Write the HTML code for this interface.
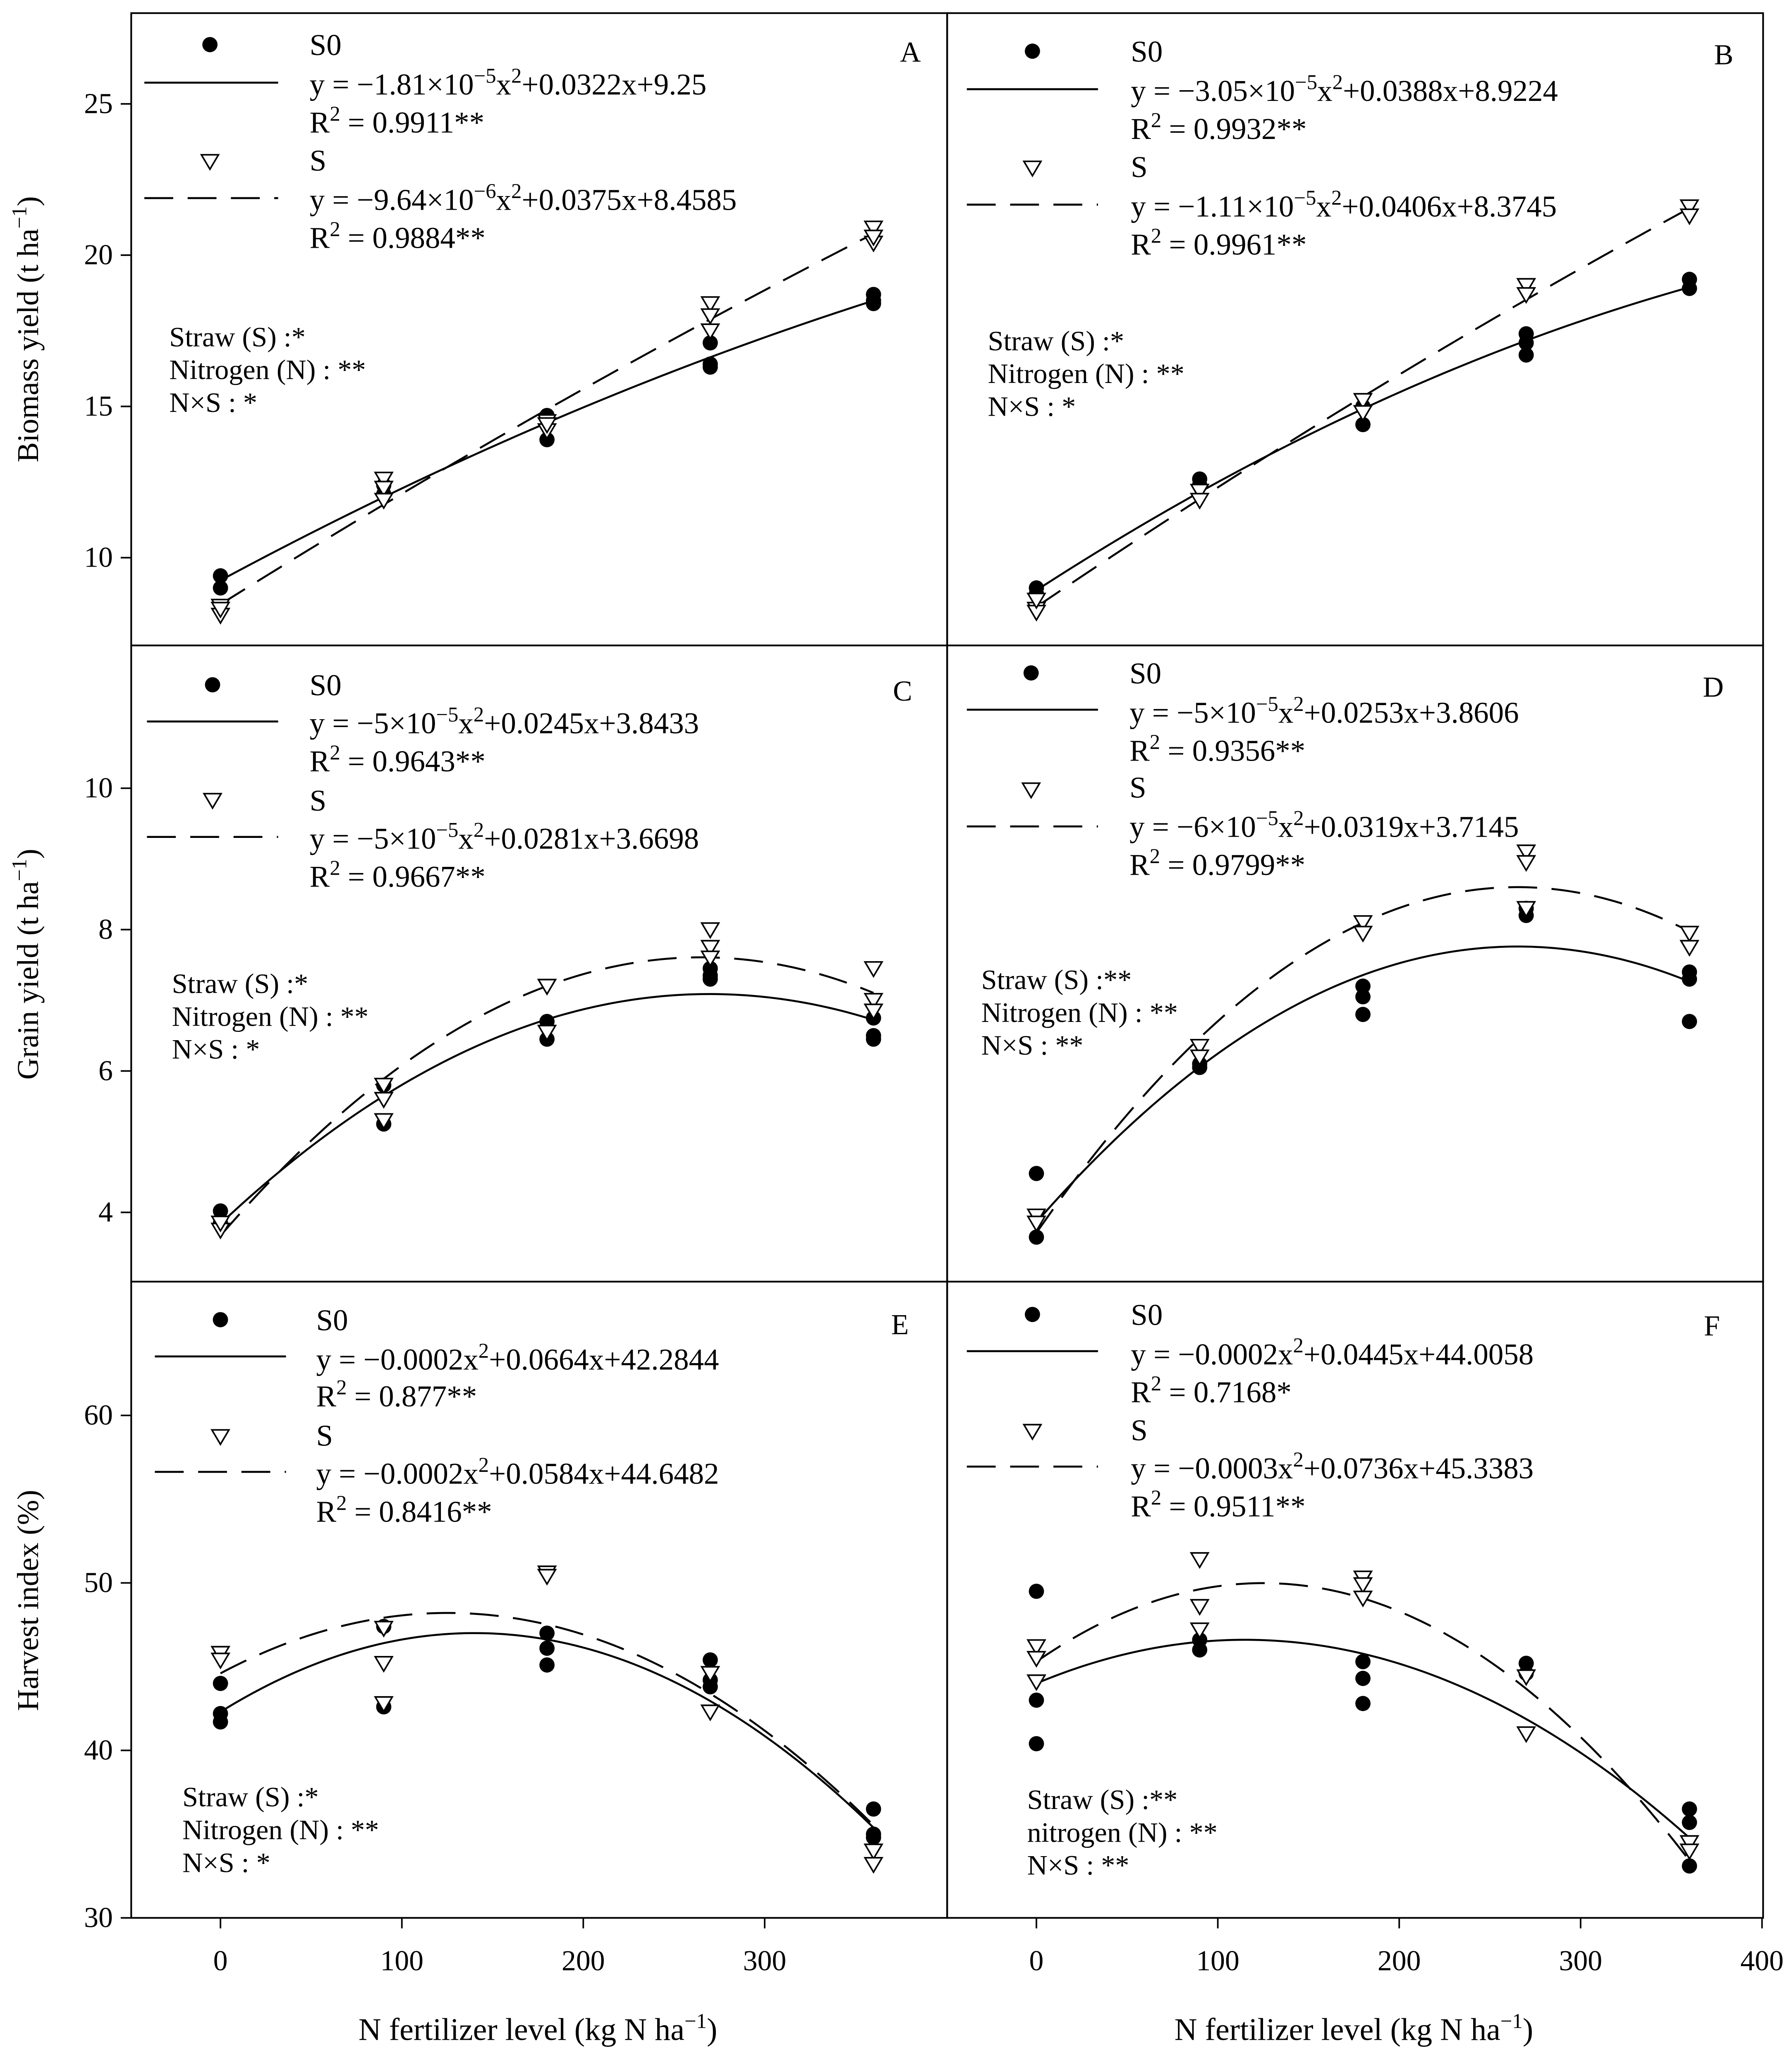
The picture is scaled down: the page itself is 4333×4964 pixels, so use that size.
<!DOCTYPE html>
<html><head><meta charset="utf-8"><style>
html,body{margin:0;padding:0;background:#fff}
svg{display:block}
text{font-family:"Liberation Serif",serif;fill:#000}
</style></head><body>
<svg id="chart" width="4333" height="4964" viewBox="0 0 1366 1565" xmlns="http://www.w3.org/2000/svg">
<rect width="1366" height="1565" fill="#fff"/>
<g id="root"></g>
</svg>
<script>
// x positions of treatments
const nLevels=[0,90,180,270,360];
// observed values (per N level)
const aS0=[[9.4,9.0],[12.4,12.1],[14.7,13.9],[17.1,16.3,16.4],[18.7,18.5,18.4]];
const aS=[[8.4,8.1,8.3],[12.6,12.3,11.9],[14.5,14.2,14.4],[18.4,18.0,17.5],[20.9,20.4,20.6]];
const bS0=[[9.0,8.8],[12.6,12.4],[15.0,14.4],[17.4,16.7,17.1],[19.2,18.9]];
const bS=[[8.3,8.2,8.6],[12.2,11.9],[15.2,14.8],[19.0,18.7],[21.6,21.3]];
const cS0=[[4.02,3.85],[5.8,5.25],[6.7,6.45],[7.45,7.3,7.35],[6.75,6.5,6.45]];
const cS=[[3.75,3.85],[5.8,5.6,5.3],[7.2,7.2,6.55],[8.0,7.75,7.6],[7.45,7.0,6.85]];
const dS0=[[4.55,3.65],[6.05,6.1],[7.2,7.05,6.8],[8.2,8.3],[7.4,7.3,6.7]];
const dS=[[3.95,3.85],[6.35,6.2],[8.1,7.95],[9.1,8.95,8.3],[7.95,7.75]];
const eS0=[[44.0,42.2,41.7],[47.4,42.6],[47.0,46.1,45.1],[45.4,44.2,43.8],[36.5,35.0,34.8]];
const eS=[[45.8,45.4],[47.3,45.2,42.8],[50.6,50.4],[44.6,42.3],[34.0,33.2]];
const fS0=[[49.5,43.0,40.4],[46.6,46.0],[45.3,44.3,42.8],[45.2,44.6],[36.5,35.7,33.1]];
const fS=[[46.2,45.5,44.1],[51.4,48.6,47.2],[50.3,49.9,49.1],[44.4,41.0],[34.5,34.0]];
// fitted quadratic coefficients [a,b,c]
const fitAS0=[-1.81e-5,0.0322,9.25], fitAS=[-9.64e-6,0.0375,8.4585];
const fitBS0=[-3.05e-5,0.0388,8.9224], fitBS=[-1.11e-5,0.0406,8.3745];
const fitCS0=[-4.47e-5,0.0241,3.84], fitCS=[-5.6e-5,0.0297,3.67];
const fitDS0=[-5.54e-5,0.0294,3.86], fitDS=[-6.96e-5,0.0369,3.71];
const fitES0=[-0.00024,0.0672,42.3], fitES=[-0.00023,0.0576,44.6];
const fitFS0=[-0.000197,0.0453,44.0], fitFS=[-0.0003,0.075,45.3];
const xTicks=[0,100,200,300];
const xTicksRight=[0,100,200,300,400];
const yTicksBio=[10,15,20,25], yTicksGrain=[4,6,8,10], yTicksHI=[30,40,50,60];

const NS="http://www.w3.org/2000/svg";
const root=document.getElementById('root');
function el(tag,attrs,parent){const e=document.createElementNS(NS,tag);for(const k in attrs)e.setAttribute(k,attrs[k]);(parent||root).appendChild(e);return e;}
function txt(x,y,html,size,anchor,parent){const t=el('text',{x:x,y:y,'font-size':size||23,'text-anchor':anchor||'start'},parent);t.innerHTML=html;return t;}
const SUP=(s)=>'<tspan dy="-9" font-size="16">'+s+'</tspan>';

const rows=[{top:10,bot:492,ymin:7.1,ymax:28.0},{top:492,bot:977,ymin:3.02,ymax:12.02},{top:977,bot:1462,ymin:30,ymax:60+102/12.77}];
const cols=[{l:100,r:722},{l:722,r:1344}];
const xmin=-49.2,xmax=400.6;
const E1=(a,b)=>'y = &#8722;'+a+'&#215;10'+SUP('&#8722;'+b.e)+'<tspan dy="9">x</tspan>'+SUP('2')+'<tspan dy="9">'+b.t+'</tspan>';
const E2=(a,t)=>'y = &#8722;'+a+'x'+SUP('2')+'<tspan dy="9">'+t+'</tspan>';

const panels=[
 {id:'A',r:0,c:0,s0:aS0,s:aS,f0:fitAS0,f1:fitAS,ticks:yTicksBio,
  eq0:E1('1.81',{e:'5',t:'+0.0322x+9.25'}),r0:'0.9911**',
  eq1:E1('9.64',{e:'6',t:'+0.0375x+8.4585'}),r1:'0.9884**',
  L:{dx:160,dy:34,lx:236,l1:[110,212,63],e0:72,rr0:101,ty:123,sy:130,l2:151,e1:160,rr1:189,ex:236,lab:[694,47],st:[129,264],stats:['Straw (S) :*','Nitrogen (N) : **','N&#215;S : *']}},
 {id:'B',r:0,c:1,s0:bS0,s:bS,f0:fitBS0,f1:fitBS,ticks:null,
  eq0:E1('3.05',{e:'5',t:'+0.0388x+8.9224'}),r0:'0.9932**',
  eq1:E1('1.11',{e:'5',t:'+0.0406x+8.3745'}),r1:'0.9961**',
  L:{dx:787,dy:39,lx:862,l1:[737,837,68],e0:77,rr0:106,ty:128,sy:135,l2:156,e1:165,rr1:194,ex:862,lab:[1314,49],st:[753,267],stats:['Straw (S) :*','Nitrogen (N) : **','N&#215;S : *']}},
 {id:'C',r:1,c:0,s0:cS0,s:cS,f0:fitCS0,f1:fitCS,ticks:yTicksGrain,
  eq0:E1('5',{e:'5',t:'+0.0245x+3.8433'}),r0:'0.9643**',
  eq1:E1('5',{e:'5',t:'+0.0281x+3.6698'}),r1:'0.9667**',
  L:{dx:162,dy:522,lx:236,l1:[112,212,550],e0:559,rr0:588,ty:610,sy:618,l2:638,e1:647,rr1:676,ex:236,lab:[688,534],st:[131,757],stats:['Straw (S) :*','Nitrogen (N) : **','N&#215;S : *']}},
 {id:'D',r:1,c:1,s0:dS0,s:dS,f0:fitDS0,f1:fitDS,ticks:null,
  eq0:E1('5',{e:'5',t:'+0.0253x+3.8606'}),r0:'0.9356**',
  eq1:E1('6',{e:'5',t:'+0.0319x+3.7145'}),r1:'0.9799**',
  L:{dx:786,dy:513,lx:861,l1:[737,837,541],e0:551,rr0:580,ty:602,sy:608,l2:630,e1:638,rr1:667,ex:861,lab:[1306,531],st:[748,754],stats:['Straw (S) :**','Nitrogen (N) : **','N&#215;S : **']}},
 {id:'E',r:2,c:0,s0:eS0,s:eS,f0:fitES0,f1:fitES,ticks:yTicksHI,
  eq0:E2('0.0002','+0.0664x+42.2844'),r0:'0.877**',
  eq1:E2('0.0002','+0.0584x+44.6482'),r1:'0.8416**',
  L:{dx:168,dy:1006,lx:241,l1:[118,218,1034],e0:1044,rr0:1072,ty:1095,sy:1102,l2:1122,e1:1131,rr1:1160,ex:241,lab:[686,1017],st:[139,1377],stats:['Straw (S) :*','Nitrogen (N) : **','N&#215;S : *']}},
 {id:'F',r:2,c:1,s0:fS0,s:fS,f0:fitFS0,f1:fitFS,ticks:null,
  eq0:E2('0.0002','+0.0445x+44.0058'),r0:'0.7168*',
  eq1:E2('0.0003','+0.0736x+45.3383'),r1:'0.9511**',
  L:{dx:787,dy:1002,lx:862,l1:[737,837,1030],e0:1040,rr0:1069,ty:1091,sy:1098,l2:1118,e1:1127,rr1:1156,ex:862,lab:[1305,1018],st:[783,1379],stats:['Straw (S) :**','nitrogen (N) : **','N&#215;S : **']}}
];

function tri(g,cx,cy,name){
  const p=el('polygon',{points:`${cx-6.5},${cy-5} ${cx+6.5},${cy-5} ${cx},${cy+6}`,fill:'#fff',stroke:'#000','stroke-width':1.2},g);
  
  
}
function dot(g,cx,cy,name){
  const c=el('circle',{cx:cx,cy:cy,r:5.8,fill:'#000'},g);
  
  
}

panels.forEach(P=>{
  const R=rows[P.r],C=cols[P.c];
  const sx=v=>C.l+(v-xmin)/(xmax-xmin)*(C.r-C.l);
  const sy=v=>R.bot-(v-R.ymin)/(R.ymax-R.ymin)*(R.bot-R.top);
  const g=el('g',{});
  
  
  const fr=el('rect',{x:C.l,y:R.top,width:C.r-C.l,height:R.bot-R.top,fill:'none',stroke:'#000','stroke-width':1.3},g);
  
  
  if(P.ticks){P.ticks.forEach(t=>{
    el('line',{x1:C.l-8,x2:C.l,y1:sy(t),y2:sy(t),stroke:'#000','stroke-width':1.2},g);
    const tl=txt(C.l-14,sy(t)+7,String(t),22,'end',g);
    
    
  });}
  if(P.r===2){(P.c===0?xTicks:xTicksRight).forEach(t=>{
    el('line',{x1:sx(t),x2:sx(t),y1:R.bot,y2:R.bot+8,stroke:'#000','stroke-width':1.2},g);
    const tl=txt(sx(t),R.bot+40,String(t),22,'middle',g);
    
    
  });}
  [[P.f0,'none','fit-curve-s0'],[P.f1,'22,11','fit-curve-s']].forEach(([f,dash,name])=>{
    let d='';for(let x=0;x<=360;x+=3){const y=f[0]*x*x+f[1]*x+f[2];d+=(x?'L':'M')+sx(x).toFixed(2)+','+sy(y).toFixed(2);}
    const p=el('path',{d:d,fill:'none',stroke:'#000','stroke-width':1.5,'stroke-dasharray':dash},g);
    
    
  });
  nLevels.forEach((n,i)=>{
    P.s0[i].forEach(v=>dot(g,sx(n),sy(v),'point-s0'));
    P.s[i].forEach(v=>tri(g,sx(n),sy(v),'point-s'));
  });
  const L=P.L;
  const lg=el('g',{},g);
  
  
  dot(lg,L.dx,L.dy,'legend-marker-s0');
  txt(L.lx,L.dy+8,'S0',23,'start',lg);
  el('line',{x1:L.l1[0],x2:L.l1[1],y1:L.l1[2],y2:L.l1[2],stroke:'#000','stroke-width':1.5},lg);
  txt(L.ex,L.e0,P.eq0,23,'start',lg);
  txt(L.ex,L.rr0,'R'+SUP('2')+'<tspan dy="9"> = '+P.r0+'</tspan>',23,'start',lg);
  tri(lg,L.dx,L.ty,'legend-marker-s');
  txt(L.lx,L.sy,'S',23,'start',lg);
  el('line',{x1:L.l1[0],x2:L.l1[1],y1:L.l2,y2:L.l2,stroke:'#000','stroke-width':1.5,'stroke-dasharray':'22,11'},lg);
  txt(L.ex,L.e1,P.eq1,23,'start',lg);
  txt(L.ex,L.rr1,'R'+SUP('2')+'<tspan dy="9"> = '+P.r1+'</tspan>',23,'start',lg);
  const lab=txt(L.lab[0],L.lab[1],P.id,22,'middle',g);
  
  
  P.L.stats.forEach((s,i)=>{
    const t=txt(L.st[0],L.st[1]+i*25,s,21.5,'start',g);
    
    
  });
});

const yl=[['Biomass yield (t ha'+SUP('&#8722;1')+'<tspan dy="9">)</tspan>',251,'y-axis-title-biomass'],['Grain yield (t ha'+SUP('&#8722;1')+'<tspan dy="9">)</tspan>',735,'y-axis-title-grain'],['Harvest index (%)',1220,'y-axis-title-harvest']];
yl.forEach(([s,y,n])=>{const t=txt(0,0,s,23,'middle');t.setAttribute('transform',`translate(29,${y}) rotate(-90)`);
  
  });
[[410,'x-axis-title-left'],[1032,'x-axis-title-right']].forEach(([x,n])=>{
  const t=txt(x,1555,'N fertilizer level (kg N ha'+SUP('&#8722;1')+'<tspan dy="9">)</tspan>',24,'middle');
  
  
});
</script>
</body></html>
